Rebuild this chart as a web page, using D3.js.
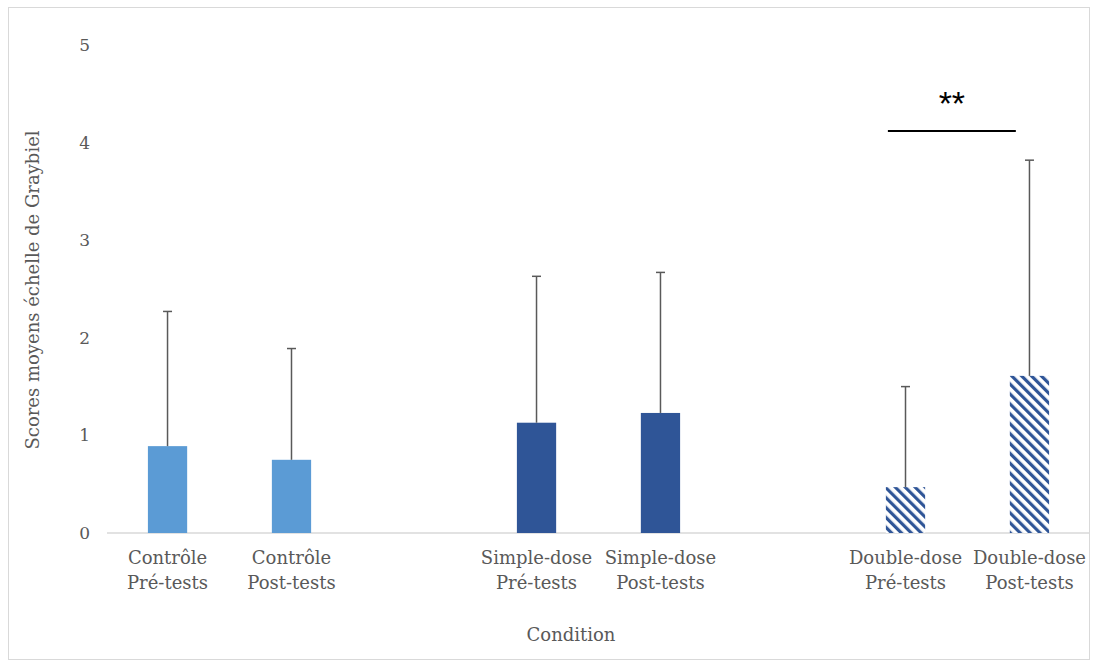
<!DOCTYPE html>
<html>
<head>
<meta charset="utf-8">
<script src="https://cdn.jsdelivr.net/npm/d3@7"></script>
<style>
  body { margin: 0; background: #fff; }
  text { font-family: "DejaVu Serif", "Liberation Serif", serif; }
</style>
</head>
<body>
<div id="chart"></div>
<script>
// groupes (catégories de l'axe x)
const groups = ["Contrôle", "Simple-dose", "Double-dose"];
// séries (6 emplacements par groupe, une seule barre remplie par groupe/phase)
const seriesKeys = ["ctrlPre", "simplePre", "doublePre", "ctrlPost", "simplePost", "doublePost"];
const barGroup  = ["Contrôle", "Simple-dose", "Double-dose", "Contrôle", "Simple-dose", "Double-dose"];
const barLine1  = ["Contrôle", "Simple-dose", "Double-dose", "Contrôle", "Simple-dose", "Double-dose"];
const barLine2  = ["Pré-tests", "Pré-tests", "Pré-tests", "Post-tests", "Post-tests", "Post-tests"];
const means     = [0.89, 1.13, 0.47, 0.75, 1.23, 1.61];
const sds       = [1.38, 1.50, 1.03, 1.14, 1.44, 2.21];
const fills     = ["#5B9BD5", "#2F5597", "hatch", "#5B9BD5", "#2F5597", "hatch"];
const yTicks    = [0, 1, 2, 3, 4, 5];
// comparaison significative
const sigPair   = ["doublePre", "doublePost"];
const sigLabel  = "**";
const sigLevel  = 4.12;

const W = 1097, H = 666;
const svg = d3.select("#chart").append("svg").attr("width", W).attr("height", H);

// pattern hachuré
const defs = svg.append("defs");
const pat = defs.append("pattern").attr("id", "hatch")
    .attr("patternUnits", "userSpaceOnUse").attr("width", 7).attr("height", 7)
    .attr("patternTransform", "rotate(-45)");
pat.append("rect").attr("width", 7).attr("height", 7).attr("fill", "#fff");
pat.append("rect").attr("width", 3.2).attr("height", 7).attr("fill", "#2F5597");

// cadre
svg.append("rect").attr("x", 8.5).attr("y", 7.5).attr("width", 1081).attr("height", 652)
    .attr("fill", "#fff").attr("stroke", "#D9D9D9").attr("stroke-width", 1);

const plot = { left: 107, right: 1090, top: 45, bottom: 533 };

const y = d3.scaleLinear().domain([0, 5]).range([plot.bottom, plot.top]);
const x0 = d3.scaleBand().domain(groups).range([plot.left, plot.right]);
const x1 = d3.scaleBand().domain(seriesKeys).range([0, x0.bandwidth()])
    .paddingInner(0.05).paddingOuter(0.99);

const bars = seriesKeys.map((k, i) => ({
    key: k, group: barGroup[i], mean: means[i], sd: sds[i], fill: fills[i],
    l1: barLine1[i], l2: barLine2[i]
}));
const cx = d => x0(d.group) + x1(d.key) + x1.bandwidth() / 2;

// axe y (étiquettes seulement)
const yAxis = svg.append("g").attr("transform", `translate(${plot.left - 17},0)`)
    .call(d3.axisLeft(y).tickValues(yTicks).tickSize(0).tickPadding(0).tickFormat(d3.format("d")));
yAxis.select(".domain").remove();
yAxis.selectAll("text").attr("fill", "#595959").style("font-size", "17px")
    .style("font-family", "'DejaVu Serif', serif");

// axe x
svg.append("line").attr("x1", plot.left).attr("x2", plot.right)
    .attr("y1", y(0)).attr("y2", y(0)).attr("stroke", "#D9D9D9").attr("stroke-width", 1.5);

// barres
svg.selectAll(".bar").data(bars).enter().append("rect").attr("class", "bar")
    .attr("x", d => x0(d.group) + x1(d.key))
    .attr("width", x1.bandwidth())
    .attr("y", d => y(d.mean))
    .attr("height", d => y(0) - y(d.mean))
    .attr("fill", d => d.fill === "hatch" ? "url(#hatch)" : d.fill);

// barres d'erreur (vers le haut uniquement)
const err = svg.selectAll(".err").data(bars).enter().append("g").attr("class", "err")
    .attr("stroke", "#595959").attr("stroke-width", 1.5);
err.append("line").attr("x1", cx).attr("x2", cx)
    .attr("y1", d => y(d.mean)).attr("y2", d => y(d.mean + d.sd));
err.append("line").attr("x1", d => cx(d) - 4.5).attr("x2", d => cx(d) + 4.5)
    .attr("y1", d => y(d.mean + d.sd)).attr("y2", d => y(d.mean + d.sd));

// étiquettes des catégories
const lab = svg.selectAll(".cat").data(bars).enter().append("text").attr("class", "cat")
    .attr("text-anchor", "middle").attr("fill", "#595959").style("font-size", "18px");
lab.append("tspan").attr("x", cx).attr("y", 564).text(d => d.l1);
lab.append("tspan").attr("x", cx).attr("y", 589).text(d => d.l2);

// titres d'axes
svg.append("text").attr("x", 571).attr("y", 641).attr("text-anchor", "middle")
    .attr("fill", "#595959").style("font-size", "18px").text("Condition");
svg.append("text").attr("transform", "translate(39,290) rotate(-90)")
    .attr("text-anchor", "middle").attr("fill", "#595959").style("font-size", "18px")
    .text("Scores moyens échelle de Graybiel");

// significativité
const b0 = bars.find(d => d.key === sigPair[0]);
const b1 = bars.find(d => d.key === sigPair[1]);
const sx0 = x0(b0.group) + x1(b0.key) + 2;
const sx1 = x0(b1.group) + x1(b1.key) + 6;
svg.append("line").attr("x1", sx0).attr("x2", sx1)
    .attr("y1", y(sigLevel)).attr("y2", y(sigLevel)).attr("stroke", "#000").attr("stroke-width", 2);
svg.append("text").attr("x", (sx0 + sx1) / 2).attr("y", y(sigLevel) - 16)
    .attr("text-anchor", "middle").attr("fill", "#000")
    .style("font-family", "'Liberation Sans', sans-serif").style("font-size", "34px")
    .text(sigLabel);
</script>
</body>
</html>
